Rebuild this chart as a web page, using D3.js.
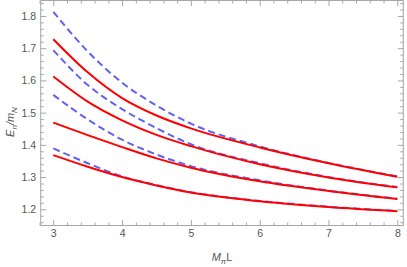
<!DOCTYPE html>
<html>
<head>
<meta charset="utf-8">
<script src="https://cdn.jsdelivr.net/npm/d3@7"></script>
<style>
  html, body { margin: 0; padding: 0; background: #fff; }
  svg { display: block; font-family: "Liberation Sans", Arial, sans-serif; }
  .tick text { fill: #555; font-size: 10.5px; }
  .tick line { stroke: #a6a6a6; }
</style>
</head>
<body>
<div id="chart"></div>
<script>
// M_pi L values where curves were read
const mL = [3, 3.5, 4, 4.5, 5, 6, 7, 8];

// solid red curves (E_n / m_N)
const red1 = [1.728, 1.625, 1.545, 1.491, 1.451, 1.392, 1.343, 1.301];
const red2 = [1.612, 1.534, 1.476, 1.431, 1.396, 1.340, 1.299, 1.268];
const red3 = [1.469, 1.430, 1.393, 1.358, 1.329, 1.287, 1.257, 1.232];
const red4 = [1.368, 1.332, 1.300, 1.274, 1.252, 1.225, 1.207, 1.194];

// dashed blue curves
const blue1 = [1.813, 1.690, 1.593, 1.522, 1.466, 1.395, 1.344, 1.302];
const blue2 = [1.694, 1.586, 1.511, 1.452, 1.402, 1.343, 1.300, 1.269];
const blue3 = [1.555, 1.479, 1.416, 1.370, 1.334, 1.290, 1.258, 1.233];
const blue4 = [1.389, 1.343, 1.302, 1.275, 1.253, 1.226, 1.208, 1.195];

const xTicks = [3, 4, 5, 6, 7, 8];
const yTicks = [1.2, 1.3, 1.4, 1.5, 1.6, 1.7, 1.8];

const W = 407, H = 267;
const m = { left: 40.7, right: 403.3, top: 0.5, bottom: 225.5 };

const svg = d3.select("#chart").append("svg")
    .attr("width", W)
    .attr("height", H);

const x = d3.scaleLinear().domain([2.817, 8.087]).range([m.left, m.right]);
const y = d3.scaleLinear().domain([1.1497, 1.848]).range([m.bottom, m.top]);

// minor tick values
const xMinor = d3.range(28, 81, 2).map(d => d / 10).filter(d => !xTicks.includes(d));
const yMinor = d3.range(116, 185, 2).map(d => d / 100)
    .filter(d => !yTicks.some(t => Math.abs(t - d) < 1e-9));

function frameAxis(axisFn, pos, major, minor, labels) {
    const g = svg.append("g").attr("transform", pos);
    g.call(axisFn(major).tickSize(-5.5).tickSizeOuter(0).tickPadding(4.5)
        .tickFormat(labels ? d3.format(".1~f") : ""));
    g.select(".domain").remove();
    g.append("g").call(axisFn(minor).tickSize(-3).tickSizeOuter(0).tickFormat(""))
        .select(".domain").remove();
    return g;
}

frameAxis(v => d3.axisBottom(x).tickValues(v), `translate(0,${m.bottom})`, xTicks, xMinor, true);
frameAxis(v => d3.axisTop(x).tickValues(v), `translate(0,${m.top})`, xTicks, xMinor, false);
frameAxis(v => d3.axisLeft(y).tickValues(v), `translate(${m.left},0)`, yTicks, yMinor, true);
frameAxis(v => d3.axisRight(y).tickValues(v), `translate(${m.right},0)`, yTicks, yMinor, false);

svg.append("rect")
    .attr("x", m.left).attr("y", m.top)
    .attr("width", m.right - m.left).attr("height", m.bottom - m.top)
    .attr("fill", "none")
    .attr("stroke", "#a6a6a6")
    .attr("stroke-width", 1);

const line = d3.line()
    .x((d, i) => x(mL[i]))
    .y(d => y(d))
    .curve(d3.curveMonotoneX);

const plot = svg.append("g");

[blue1, blue2, blue3, blue4].forEach(s => {
    plot.append("path")
        .attr("d", line(s))
        .attr("fill", "none")
        .attr("stroke", "#6262f2")
        .attr("stroke-width", 2)
        .attr("stroke-dasharray", "7,4");
});

[red1, red2, red3, red4].forEach(s => {
    plot.append("path")
        .attr("d", line(s))
        .attr("fill", "none")
        .attr("stroke", "#ff0000")
        .attr("stroke-width", 2);
});

// axis labels
const xl = svg.append("text")
    .attr("x", 222).attr("y", 261)
    .attr("text-anchor", "middle")
    .attr("fill", "#555")
    .style("font-size", "11px");
xl.append("tspan").attr("font-style", "italic").text("M");
xl.append("tspan").attr("font-style", "italic").attr("dy", 3).style("font-size", "8px").text("π");
xl.append("tspan").attr("dy", -3).text("L");

const yl = svg.append("text")
    .attr("transform", "translate(14,122) rotate(-90)")
    .attr("text-anchor", "middle")
    .attr("fill", "#555")
    .attr("font-style", "italic")
    .style("font-size", "11px");
yl.append("tspan").text("E");
yl.append("tspan").attr("dy", 3).style("font-size", "8px").text("n");
yl.append("tspan").attr("dy", -3).text("/m");
yl.append("tspan").attr("dy", 3).style("font-size", "8px").text("N");
</script>
</body>
</html>
